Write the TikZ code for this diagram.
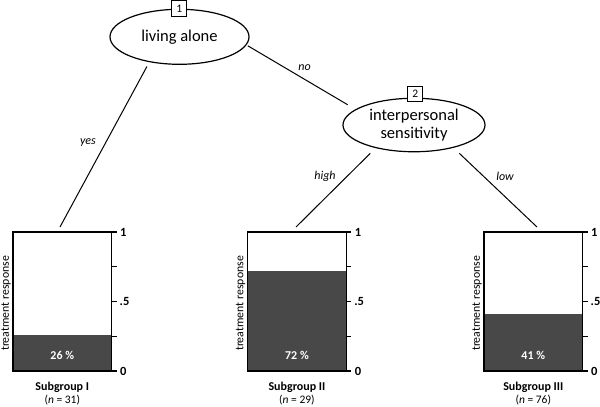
\documentclass[tikz,border=0pt]{standalone}
\usepackage{fontspec}
\setmainfont{Carlito}
\usetikzlibrary{shapes.geometric}
\definecolor{barfill}{RGB}{72,72,72}
\newcommand\subgroupbar[6]{%
  \pgfmathsetmacro\sgL{#2}%
  \pgfmathsetmacro\sgR{#2+98.5}%
  \pgfmathsetmacro\sgC{#2+49.25}%
  \pgfmathsetmacro\sgT{371-139*#3}%
  \fill[barfill] (\sgL,\sgT) rectangle (\sgR,371);
  \node[bar] (#1) at (\sgC,301.5) {};
  \foreach \v in {0,0.25,0.5,0.75,1} \draw[tick] (\sgR,{371-139*\v}) -- ++(5,0);
  \node[ticklab] (#1t1) at (\sgR+8.5,232) {1};
  \node[ticklab] (#1t5) at (\sgR+8,301.5) {.5};
  \node[ticklab] (#1t0) at (\sgR+8.5,371) {0};
  \node[ylab] (#1y) at (\sgL-7,303.5) {treatment response};
  \node[pctlab] (#1p) at (\sgC,355) {#4};
  \node[grouplab] (#1g) at (\sgC,387.5) {Subgroup #5};
  \node[nlab] (#1n) at (\sgC,400.5) {(\textit{n} = #6)};
}
\begin{document}
\begin{tikzpicture}[x=1pt,y=-1pt,
  split/.style={ellipse, draw, line width=1.2pt, inner sep=0pt, align=center,
    font=\fontsize{16.5}{18.5}\selectfont},
  numbox/.style={draw, fill=white, line width=0.9pt, minimum width=15pt,
    minimum height=15.5pt, inner sep=0pt, font=\fontsize{11.5}{12}\selectfont},
  branch/.style={line width=1pt},
  edgelab/.style={inner sep=0pt, font=\fontsize{12}{13}\selectfont\itshape},
  bar/.style={draw, line width=1.1pt, minimum width=98.5pt, minimum height=139pt, inner sep=0pt},
  tick/.style={line width=1.1pt},
  ticklab/.style={anchor=west, inner sep=0pt, font=\fontsize{12.5}{13}\selectfont\bfseries},
  ylab/.style={rotate=90, inner sep=0pt, font=\fontsize{11.8}{13}\selectfont},
  pctlab/.style={inner sep=0pt, text=white, font=\fontsize{12}{13}\selectfont\bfseries},
  grouplab/.style={inner sep=0pt, font=\fontsize{12}{13}\selectfont\bfseries},
  nlab/.style={inner sep=0pt, font=\fontsize{11.5}{13}\selectfont},
]
\useasboundingbox (0,0) rectangle (600,407);

% decision nodes
\node[split, minimum width=139pt, minimum height=55pt] (ell1) at (179.5,36.8) {living alone};
\node[split, minimum width=142pt, minimum height=53.5pt] (ell2) at (414,125) {interpersonal\\sensitivity};
\node[numbox] (n1) at (179.2,8.5) {1};
\node[numbox] (n2) at (415.3,94) {2};

% bars
\subgroupbar{barA}{13}{0.26}{26 \%}{I}{31}
\subgroupbar{barB}{247.7}{0.72}{72 \%}{II}{29}
\subgroupbar{barC}{484}{0.41}{41 \%}{III}{76}

% branch ends above bars
\coordinate (t1) at (60,227);
\coordinate (t2) at (296,227);
\coordinate (t3) at (537,227);

% branches
\draw[branch, shorten <=5pt] (ell1.220) -- (t1);
\draw[branch, shorten <=1.5pt, shorten >=9pt] (ell1.353) -- (ell2.165);
\draw[branch, shorten <=7.5pt] (ell2.211) -- (t2);
\draw[branch, shorten <=8pt] (ell2.330) -- (t3);

% branch labels
\node[edgelab] (lyes) at (88,143) {yes};
\node[edgelab] (lno) at (304.5,68) {no};
\node[edgelab] (lhigh) at (325,176.5) {high};
\node[edgelab] (llow) at (505,176.5) {low};
\end{tikzpicture}
\end{document}
